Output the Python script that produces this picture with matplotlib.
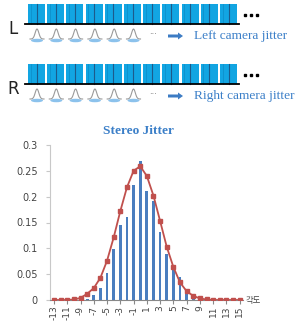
import numpy as np
import matplotlib.pyplot as plt
from matplotlib.patches import Rectangle, Ellipse, FancyArrow

# chart data
angles = list(range(-13, 16))
measured = [0, 0, 0, 0, 0, 0.001, 0.010, 0.023, 0.053, 0.098, 0.145, 0.161, 0.223, 0.269,
            0.211, 0.191, 0.132, 0.090, 0.058, 0.045, 0.016, 0.006, 0.002, 0, 0, 0, 0, 0, 0]
fitted = [0, 0, 0, 0.001, 0.004, 0.012, 0.023, 0.043, 0.076, 0.121, 0.172, 0.218, 0.250, 0.259,
          0.240, 0.202, 0.153, 0.103, 0.064, 0.034, 0.017, 0.008, 0.003, 0.001, 0, 0, 0, 0, 0]
tick_vals = list(range(-13, 16, 2))
y_ticks = [0, 0.05, 0.1, 0.15, 0.2, 0.25, 0.3]
y_labels = ["0", "0.05", "0.1", "0.15", "0.2", "0.25", "0.3"]
rows = [("L", "Left camera jitter"), ("R", "Right camera jitter")]

plt.rcParams['font.family'] = ['DejaVu Sans', 'Noto Sans CJK KR']

W, H = 302, 329
fig = plt.figure(figsize=(W / 100, H / 100), dpi=100)

# --- top diagram drawn in pixel coordinates
top = fig.add_axes([0, 1 - 110 / H, 1, 110 / H])
top.set_xlim(0, W)
top.set_ylim(110, 0)
top.axis("off")

frame_col = "#12A5E2"
line_col = "#1d5a8a"
text_col = "#3b7fc8"

def bell(ax, cx, cy):
    xs = np.linspace(-7, 7, 40)
    ys = cy - 10 * np.exp(-(xs / 2.6) ** 2)
    ax.plot(cx + xs, ys, color="#9a9a9a", lw=0.8)
    ax.add_patch(Ellipse((cx, cy + 1.5), 12, 3.5, color="#6fb3e8", alpha=0.8, lw=0))

for r, (letter, label) in enumerate(rows):
    y0 = 4 + r * 60
    for i in range(11):
        x = 28 + i * 19.2
        top.add_patch(Rectangle((x, y0), 17, 20, color=frame_col, lw=0))
        top.plot([x + 8.5, x + 8.5], [y0, y0 + 20], color=line_col, lw=0.8)
        top.plot([x + 2.5, x + 2.5], [y0, y0 + 20], color="#0b86bf", lw=0.4)
    top.plot([25, 239], [y0 + 20, y0 + 20], color="black", lw=1.3)
    for k in range(3):
        top.plot(245 + k * 6, y0 + 11, "s", color="black", markersize=1.6)
    top.text(13, y0 + 25, letter, fontsize=12, ha="center", va="center", color="#222222")
    for i in range(6):
        bell(top, 37 + i * 19.3, y0 + 35)
    top.text(153, y0 + 31, "\u00b7\u00b7\u00b7", fontsize=6, ha="center", va="center", color="#666666")
    top.add_patch(FancyArrow(168, y0 + 32, 10, 0, width=3, head_width=7, head_length=5,
                             color="#3d7cc4", lw=0))
    top.text(194, y0 + 32, label, fontsize=9.6, ha="left", va="center", color=text_col,
             family="Liberation Serif")

# --- chart
ax = fig.add_axes([50 / W, 29 / H, 193 / W, 155 / H])
ax.bar(angles, measured, width=0.42, color="#4a7ebf", zorder=2)
ax.plot(angles, fitted, color="#c0504d", lw=1.3, marker="s", markersize=3, zorder=3)
ax.set_xlim(-13.6, 15.5)
ax.set_ylim(0, 0.3)
ax.set_yticks(y_ticks)
ax.set_yticklabels(y_labels)
ax.set_xticks(tick_vals)
ax.set_xticklabels([str(v) for v in tick_vals], rotation=90)
for s in ["top", "right"]:
    ax.spines[s].set_visible(False)
ax.spines["left"].set_color("#c8c8c8")
ax.spines["bottom"].set_color("#888888")
ax.tick_params(axis="y", colors="#c8c8c8", labelcolor="#444444", labelsize=7, length=3, pad=6)
ax.tick_params(axis="x", colors="#888888", labelcolor="#444444", labelsize=6.5, length=3, pad=1)
ax.set_title("Stereo Jitter", fontsize=9.6, fontweight="bold", color="#3b7fc8",
             family="Liberation Serif", pad=8, x=0.46)
ax.text(1.015, -0.005, "각도", transform=ax.transAxes, fontsize=6, color="#444444",
        ha="left", va="center", family="Noto Sans CJK KR")

fig.savefig("out.png", dpi=100)
